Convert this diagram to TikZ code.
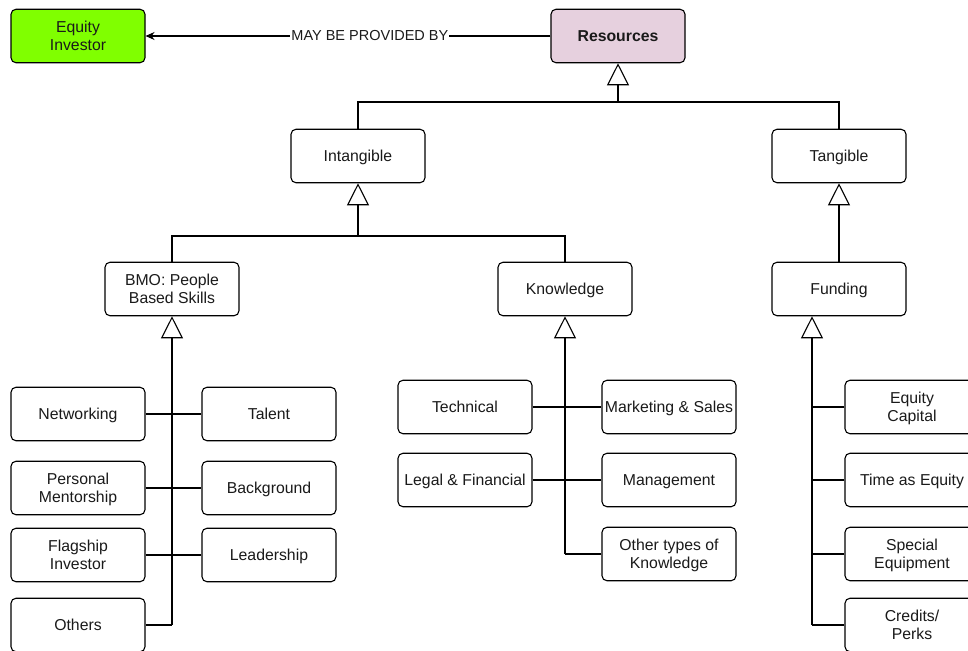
\documentclass[tikz,border=0pt]{standalone}
\usepackage{fontspec}
\setmainfont{Liberation Sans}
\usetikzlibrary{arrows.meta}
\definecolor{investorgreen}{HTML}{80FF00}
\definecolor{resourcepink}{HTML}{E6D0DE}
\definecolor{inkgray}{HTML}{1A1A1A}
\tikzset{
  box/.style={draw=black, rounded corners=5pt, line width=1.1pt, fill=white,
    minimum width=134pt, minimum height=53.5pt, inner sep=0pt, align=center,
    text depth=0pt, text=inkgray, font=\fontsize{15.8}{18.5}\selectfont},
  link/.style={draw=black, line width=1.1pt},
  inherit/.style={link, -{Triangle[open, length=22pt, width=22pt, line width=1.1pt]}},
  edgelabel/.style={fill=white, inner sep=1pt, text=inkgray, font=\fontsize{14.5}{16}\selectfont}
}
\begin{document}
\begin{tikzpicture}[x=1pt, y=-1pt]
\useasboundingbox (0,0) rectangle (968,650);
\clip (0,0) rectangle (968,650);

% top row
\node[box, fill=investorgreen] (ei) at (78,36) {Equity\\Investor};
\node[box, fill=resourcepink, font=\fontsize{15.8}{18.5}\selectfont\bfseries] (res) at (618,36) {Resources};

% second level
\node[box] (intang) at (358,156) {Intangible};
\node[box] (tang) at (839,156) {Tangible};

% third level
\node[box] (bmo) at (172,289) {BMO: People\\Based Skills};
\node[box] (know) at (565,289) {Knowledge};
\node[box] (fund) at (839,289) {Funding};

% people based skills
\node[box] (netw) at (78,414) {Networking};
\node[box] (talent) at (269,414) {Talent};
\node[box] (pers) at (78,488) {Personal\\Mentorship};
\node[box] (backg) at (269,488) {Background};
\node[box] (flag) at (78,555) {Flagship\\Investor};
\node[box] (lead) at (269,555) {Leadership};
\node[box] (others) at (78,625) {Others};

% knowledge
\node[box] (tech) at (465,407) {Technical};
\node[box] (mark) at (669,407) {Marketing \& Sales};
\node[box] (legal) at (465,480) {Legal \& Financial};
\node[box] (mgmt) at (669,480) {Management};
\node[box] (othk) at (669,554) {Other types of\\Knowledge};

% funding
\node[box] (eqcap) at (912,407) {Equity\\Capital};
\node[box] (time) at (912,480) {Time as Equity};
\node[box] (spec) at (912,554) {Special\\Equipment};
\node[box] (cred) at (912,625) {Credits/\\Perks};

% junction points of the generalisation trees
\coordinate (jR) at (618,102);
\coordinate (jI) at (358,236);
\coordinate (jB) at (bmo.south |- others.east);
\coordinate (jK) at (know.south |- othk.west);
\coordinate (fT) at ([xshift=-27pt]fund.south);
\coordinate (jF) at (fT |- cred.west);

% provider association
\draw[link, -{Stealth[length=9pt, width=8pt]}] (res.west) --
  node[pos=0.446, edgelabel] {MAY BE PROVIDED BY} (ei.east);

% resources
\draw[inherit] (jR) -- (res.south);
\draw[link] (intang.north) |- (jR) -| (tang.north);

% intangible
\draw[inherit] (jI) -- (intang.south);
\draw[link] (bmo.north) |- (jI) -| (know.north);

% tangible
\draw[inherit] (fund.north) -- (tang.south);

% people based skills
\draw[inherit] (jB) -- (bmo.south);
\draw[link] (netw.east) -- (talent.west);
\draw[link] (pers.east) -- (backg.west);
\draw[link] (flag.east) -- (lead.west);
\draw[link] (others.east) -- (jB);

% knowledge
\draw[inherit] (jK) -- (know.south);
\draw[link] (tech.east) -- (mark.west);
\draw[link] (legal.east) -- (mgmt.west);
\draw[link] (othk.west) -- (jK);

% funding
\draw[inherit] (jF) -- (fT);
\draw[link] (eqcap.west) -- (eqcap.west -| jF);
\draw[link] (time.west) -- (time.west -| jF);
\draw[link] (spec.west) -- (spec.west -| jF);
\draw[link] (cred.west) -- (jF);
\end{tikzpicture}
\end{document}
